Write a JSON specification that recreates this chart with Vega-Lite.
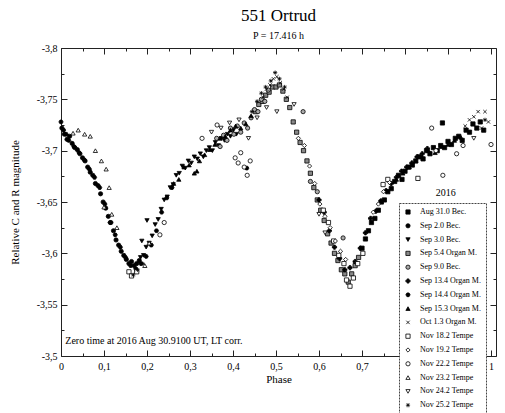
{
  "$schema": "https://vega.github.io/schema/vega-lite/v6.json",
  "autosize": {"type": "none"},
  "padding": {"left": 61, "top": 48, "right": 9, "bottom": 57},
  "width": 435,
  "height": 308,
  "background": "white",
  "title": {"text": "551 Ortrud", "subtitle": "P = 17.416 h", "font": "Liberation Serif", "fontSize": 17, "fontWeight": "normal", "subtitleFont": "Liberation Serif", "subtitleFontSize": 10, "subtitlePadding": 6, "offset": 1, "anchor": "middle", "color": "black", "subtitleColor": "black"},
  "config": {
    "view": {"stroke": "#222", "strokeWidth": 1},
    "axis": {"domain": false, "grid": false, "tickColor": "#222", "labelFont": "Liberation Serif", "labelFontSize": 10, "labelColor": "black", "titleFont": "Liberation Serif", "titleFontSize": 11, "titleFontWeight": "normal", "titleColor": "black"},
    "legend": {"orient": "none", "legendX": 338, "legendY": 155, "strokeColor": "#444", "strokeDash": [2, 1], "fillColor": "white", "padding": 5, "labelFont": "Liberation Serif", "labelFontSize": 8, "labelColor": "black", "symbolSize": 18, "rowPadding": 5.8, "labelOffset": 8, "symbolStrokeWidth": 0.8, "symbolStrokeColor": "black"}
  },
  "resolve": {"axis": {"x": "independent", "y": "independent"}},
  "layer": [
    {
      "data": {"values": [
        {"p":0.700,"m":-3.605,"s":"Aug 31.0 Bec."},{"p":0.708,"m":-3.614,"s":"Aug 31.0 Bec."},{"p":0.715,"m":-3.622,"s":"Aug 31.0 Bec."},{"p":0.722,"m":-3.630,"s":"Aug 31.0 Bec."},{"p":0.730,"m":-3.634,"s":"Aug 31.0 Bec."},{"p":0.738,"m":-3.642,"s":"Aug 31.0 Bec."},{"p":0.745,"m":-3.650,"s":"Aug 31.0 Bec."},{"p":0.752,"m":-3.652,"s":"Aug 31.0 Bec."},{"p":0.760,"m":-3.660,"s":"Aug 31.0 Bec."},{"p":0.768,"m":-3.663,"s":"Aug 31.0 Bec."},{"p":0.776,"m":-3.670,"s":"Aug 31.0 Bec."},{"p":0.785,"m":-3.676,"s":"Aug 31.0 Bec."},{"p":0.793,"m":-3.672,"s":"Aug 31.0 Bec."},{"p":0.800,"m":-3.680,"s":"Aug 31.0 Bec."},{"p":0.808,"m":-3.684,"s":"Aug 31.0 Bec."},{"p":0.817,"m":-3.686,"s":"Aug 31.0 Bec."},{"p":0.825,"m":-3.690,"s":"Aug 31.0 Bec."},{"p":0.833,"m":-3.694,"s":"Aug 31.0 Bec."},{"p":0.842,"m":-3.692,"s":"Aug 31.0 Bec."},{"p":0.850,"m":-3.700,"s":"Aug 31.0 Bec."},{"p":0.858,"m":-3.697,"s":"Aug 31.0 Bec."},{"p":0.866,"m":-3.703,"s":"Aug 31.0 Bec."},{"p":0.875,"m":-3.700,"s":"Aug 31.0 Bec."},{"p":0.883,"m":-3.705,"s":"Aug 31.0 Bec."},{"p":0.892,"m":-3.703,"s":"Aug 31.0 Bec."},{"p":0.900,"m":-3.709,"s":"Aug 31.0 Bec."},{"p":0.908,"m":-3.706,"s":"Aug 31.0 Bec."},{"p":0.917,"m":-3.712,"s":"Aug 31.0 Bec."},{"p":0.925,"m":-3.714,"s":"Aug 31.0 Bec."},{"p":0.933,"m":-3.710,"s":"Aug 31.0 Bec."},{"p":0.942,"m":-3.720,"s":"Aug 31.0 Bec."},{"p":0.950,"m":-3.718,"s":"Aug 31.0 Bec."},{"p":0.958,"m":-3.726,"s":"Aug 31.0 Bec."},{"p":0.967,"m":-3.722,"s":"Aug 31.0 Bec."},{"p":0.975,"m":-3.728,"s":"Aug 31.0 Bec."},{"p":0.983,"m":-3.720,"s":"Aug 31.0 Bec."},{"p":0.887,"m":-3.727,"s":"Aug 31.0 Bec."},
        {"p":0.002,"m":-3.722,"s":"Sep 2.0 Bec."},{"p":0.008,"m":-3.716,"s":"Sep 2.0 Bec."},{"p":0.014,"m":-3.711,"s":"Sep 2.0 Bec."},{"p":0.020,"m":-3.714,"s":"Sep 2.0 Bec."},{"p":0.026,"m":-3.707,"s":"Sep 2.0 Bec."},{"p":0.032,"m":-3.703,"s":"Sep 2.0 Bec."},{"p":0.038,"m":-3.701,"s":"Sep 2.0 Bec."},{"p":0.044,"m":-3.697,"s":"Sep 2.0 Bec."},{"p":0.050,"m":-3.693,"s":"Sep 2.0 Bec."},{"p":0.056,"m":-3.690,"s":"Sep 2.0 Bec."},{"p":0.062,"m":-3.684,"s":"Sep 2.0 Bec."},{"p":0.068,"m":-3.679,"s":"Sep 2.0 Bec."},{"p":0.074,"m":-3.676,"s":"Sep 2.0 Bec."},{"p":0.080,"m":-3.668,"s":"Sep 2.0 Bec."},{"p":0.086,"m":-3.666,"s":"Sep 2.0 Bec."},{"p":0.092,"m":-3.658,"s":"Sep 2.0 Bec."},{"p":0.098,"m":-3.650,"s":"Sep 2.0 Bec."},{"p":0.104,"m":-3.644,"s":"Sep 2.0 Bec."},{"p":0.110,"m":-3.636,"s":"Sep 2.0 Bec."},{"p":0.116,"m":-3.630,"s":"Sep 2.0 Bec."},{"p":0.122,"m":-3.622,"s":"Sep 2.0 Bec."},{"p":0.128,"m":-3.613,"s":"Sep 2.0 Bec."},{"p":0.134,"m":-3.608,"s":"Sep 2.0 Bec."},{"p":0.140,"m":-3.602,"s":"Sep 2.0 Bec."},{"p":0.146,"m":-3.598,"s":"Sep 2.0 Bec."},{"p":0.152,"m":-3.594,"s":"Sep 2.0 Bec."},{"p":0.158,"m":-3.590,"s":"Sep 2.0 Bec."},{"p":0.164,"m":-3.592,"s":"Sep 2.0 Bec."},{"p":0.170,"m":-3.588,"s":"Sep 2.0 Bec."},{"p":0.176,"m":-3.590,"s":"Sep 2.0 Bec."},{"p":0.182,"m":-3.593,"s":"Sep 2.0 Bec."},
        {"p":0.185,"m":-3.596,"s":"Sep 3.0 Bec."},{"p":0.192,"m":-3.598,"s":"Sep 3.0 Bec."},{"p":0.198,"m":-3.606,"s":"Sep 3.0 Bec."},{"p":0.205,"m":-3.610,"s":"Sep 3.0 Bec."},{"p":0.212,"m":-3.617,"s":"Sep 3.0 Bec."},{"p":0.219,"m":-3.628,"s":"Sep 3.0 Bec."},{"p":0.226,"m":-3.633,"s":"Sep 3.0 Bec."},{"p":0.233,"m":-3.643,"s":"Sep 3.0 Bec."},{"p":0.240,"m":-3.652,"s":"Sep 3.0 Bec."},{"p":0.247,"m":-3.655,"s":"Sep 3.0 Bec."},{"p":0.254,"m":-3.664,"s":"Sep 3.0 Bec."},{"p":0.261,"m":-3.667,"s":"Sep 3.0 Bec."},{"p":0.268,"m":-3.676,"s":"Sep 3.0 Bec."},{"p":0.275,"m":-3.678,"s":"Sep 3.0 Bec."},{"p":0.282,"m":-3.685,"s":"Sep 3.0 Bec."},{"p":0.289,"m":-3.683,"s":"Sep 3.0 Bec."},{"p":0.296,"m":-3.690,"s":"Sep 3.0 Bec."},{"p":0.303,"m":-3.688,"s":"Sep 3.0 Bec."},{"p":0.310,"m":-3.694,"s":"Sep 3.0 Bec."},{"p":0.317,"m":-3.692,"s":"Sep 3.0 Bec."},{"p":0.324,"m":-3.697,"s":"Sep 3.0 Bec."},{"p":0.331,"m":-3.694,"s":"Sep 3.0 Bec."},{"p":0.338,"m":-3.700,"s":"Sep 3.0 Bec."},{"p":0.345,"m":-3.703,"s":"Sep 3.0 Bec."},{"p":0.352,"m":-3.700,"s":"Sep 3.0 Bec."},{"p":0.359,"m":-3.708,"s":"Sep 3.0 Bec."},{"p":0.366,"m":-3.705,"s":"Sep 3.0 Bec."},{"p":0.373,"m":-3.712,"s":"Sep 3.0 Bec."},{"p":0.380,"m":-3.710,"s":"Sep 3.0 Bec."},{"p":0.387,"m":-3.716,"s":"Sep 3.0 Bec."},{"p":0.394,"m":-3.714,"s":"Sep 3.0 Bec."},{"p":0.401,"m":-3.720,"s":"Sep 3.0 Bec."},{"p":0.408,"m":-3.716,"s":"Sep 3.0 Bec."},{"p":0.200,"m":-3.632,"s":"Sep 3.0 Bec."},{"p":0.188,"m":-3.612,"s":"Sep 3.0 Bec."},
        {"p":0.452,"m":-3.738,"s":"Sep 5.4 Organ M."},{"p":0.460,"m":-3.745,"s":"Sep 5.4 Organ M."},{"p":0.468,"m":-3.748,"s":"Sep 5.4 Organ M."},{"p":0.476,"m":-3.754,"s":"Sep 5.4 Organ M."},{"p":0.484,"m":-3.757,"s":"Sep 5.4 Organ M."},{"p":0.492,"m":-3.762,"s":"Sep 5.4 Organ M."},{"p":0.500,"m":-3.762,"s":"Sep 5.4 Organ M."},{"p":0.508,"m":-3.764,"s":"Sep 5.4 Organ M."},{"p":0.516,"m":-3.758,"s":"Sep 5.4 Organ M."},{"p":0.524,"m":-3.750,"s":"Sep 5.4 Organ M."},{"p":0.532,"m":-3.742,"s":"Sep 5.4 Organ M."},{"p":0.540,"m":-3.728,"s":"Sep 5.4 Organ M."},{"p":0.548,"m":-3.718,"s":"Sep 5.4 Organ M."},{"p":0.556,"m":-3.708,"s":"Sep 5.4 Organ M."},{"p":0.564,"m":-3.700,"s":"Sep 5.4 Organ M."},{"p":0.572,"m":-3.690,"s":"Sep 5.4 Organ M."},{"p":0.580,"m":-3.678,"s":"Sep 5.4 Organ M."},{"p":0.588,"m":-3.664,"s":"Sep 5.4 Organ M."},{"p":0.596,"m":-3.652,"s":"Sep 5.4 Organ M."},{"p":0.604,"m":-3.642,"s":"Sep 5.4 Organ M."},{"p":0.612,"m":-3.632,"s":"Sep 5.4 Organ M."},{"p":0.620,"m":-3.619,"s":"Sep 5.4 Organ M."},{"p":0.628,"m":-3.610,"s":"Sep 5.4 Organ M."},{"p":0.636,"m":-3.600,"s":"Sep 5.4 Organ M."},{"p":0.644,"m":-3.593,"s":"Sep 5.4 Organ M."},{"p":0.652,"m":-3.584,"s":"Sep 5.4 Organ M."},{"p":0.660,"m":-3.580,"s":"Sep 5.4 Organ M."},{"p":0.668,"m":-3.572,"s":"Sep 5.4 Organ M."},{"p":0.676,"m":-3.580,"s":"Sep 5.4 Organ M."},{"p":0.684,"m":-3.588,"s":"Sep 5.4 Organ M."},{"p":0.692,"m":-3.596,"s":"Sep 5.4 Organ M."},
        {"p":0.362,"m":-3.712,"s":"Sep 9.0 Bec."},{"p":0.370,"m":-3.704,"s":"Sep 9.0 Bec."},{"p":0.378,"m":-3.715,"s":"Sep 9.0 Bec."},{"p":0.386,"m":-3.710,"s":"Sep 9.0 Bec."},{"p":0.394,"m":-3.722,"s":"Sep 9.0 Bec."},{"p":0.402,"m":-3.716,"s":"Sep 9.0 Bec."},{"p":0.410,"m":-3.724,"s":"Sep 9.0 Bec."},{"p":0.418,"m":-3.718,"s":"Sep 9.0 Bec."},{"p":0.426,"m":-3.727,"s":"Sep 9.0 Bec."},{"p":0.434,"m":-3.722,"s":"Sep 9.0 Bec."},{"p":0.442,"m":-3.732,"s":"Sep 9.0 Bec."},{"p":0.450,"m":-3.740,"s":"Sep 9.0 Bec."},{"p":0.458,"m":-3.738,"s":"Sep 9.0 Bec."},{"p":0.466,"m":-3.750,"s":"Sep 9.0 Bec."},{"p":0.474,"m":-3.748,"s":"Sep 9.0 Bec."},{"p":0.482,"m":-3.759,"s":"Sep 9.0 Bec."},{"p":0.563,"m":-3.738,"s":"Sep 9.0 Bec."},{"p":0.656,"m":-3.615,"s":"Sep 9.0 Bec."},{"p":0.580,"m":-3.670,"s":"Sep 9.0 Bec."},{"p":0.596,"m":-3.660,"s":"Sep 9.0 Bec."},
        {"p":0.600,"m":-3.652,"s":"Sep 13.4 Organ M."},{"p":0.612,"m":-3.640,"s":"Sep 13.4 Organ M."},{"p":0.624,"m":-3.622,"s":"Sep 13.4 Organ M."},{"p":0.636,"m":-3.606,"s":"Sep 13.4 Organ M."},{"p":0.648,"m":-3.595,"s":"Sep 13.4 Organ M."},{"p":0.660,"m":-3.584,"s":"Sep 13.4 Organ M."},{"p":0.672,"m":-3.586,"s":"Sep 13.4 Organ M."},{"p":0.684,"m":-3.592,"s":"Sep 13.4 Organ M."},{"p":0.696,"m":-3.605,"s":"Sep 13.4 Organ M."},{"p":0.708,"m":-3.620,"s":"Sep 13.4 Organ M."},{"p":0.720,"m":-3.634,"s":"Sep 13.4 Organ M."},{"p":0.732,"m":-3.641,"s":"Sep 13.4 Organ M."},{"p":0.744,"m":-3.651,"s":"Sep 13.4 Organ M."},{"p":0.756,"m":-3.661,"s":"Sep 13.4 Organ M."},{"p":0.768,"m":-3.668,"s":"Sep 13.4 Organ M."},{"p":0.780,"m":-3.674,"s":"Sep 13.4 Organ M."},{"p":0.792,"m":-3.680,"s":"Sep 13.4 Organ M."},{"p":0.804,"m":-3.684,"s":"Sep 13.4 Organ M."},{"p":0.816,"m":-3.688,"s":"Sep 13.4 Organ M."},{"p":0.828,"m":-3.694,"s":"Sep 13.4 Organ M."},{"p":0.840,"m":-3.697,"s":"Sep 13.4 Organ M."},{"p":0.852,"m":-3.702,"s":"Sep 13.4 Organ M."},
        {"p":0.000,"m":-3.728,"s":"Sep 14.4 Organ M."},{"p":0.006,"m":-3.720,"s":"Sep 14.4 Organ M."},{"p":0.012,"m":-3.716,"s":"Sep 14.4 Organ M."},{"p":0.018,"m":-3.710,"s":"Sep 14.4 Organ M."},{"p":0.030,"m":-3.704,"s":"Sep 14.4 Organ M."},{"p":0.042,"m":-3.698,"s":"Sep 14.4 Organ M."},{"p":0.054,"m":-3.691,"s":"Sep 14.4 Organ M."},{"p":0.066,"m":-3.682,"s":"Sep 14.4 Organ M."},{"p":0.078,"m":-3.674,"s":"Sep 14.4 Organ M."},{"p":0.090,"m":-3.664,"s":"Sep 14.4 Organ M."},{"p":0.102,"m":-3.648,"s":"Sep 14.4 Organ M."},{"p":0.114,"m":-3.630,"s":"Sep 14.4 Organ M."},{"p":0.126,"m":-3.618,"s":"Sep 14.4 Organ M."},{"p":0.138,"m":-3.606,"s":"Sep 14.4 Organ M."},{"p":0.150,"m":-3.596,"s":"Sep 14.4 Organ M."},{"p":0.162,"m":-3.588,"s":"Sep 14.4 Organ M."},{"p":0.174,"m":-3.585,"s":"Sep 14.4 Organ M."},{"p":0.186,"m":-3.590,"s":"Sep 14.4 Organ M."},{"p":0.198,"m":-3.597,"s":"Sep 14.4 Organ M."},{"p":0.210,"m":-3.608,"s":"Sep 14.4 Organ M."},{"p":0.222,"m":-3.622,"s":"Sep 14.4 Organ M."},{"p":0.234,"m":-3.640,"s":"Sep 14.4 Organ M."},{"p":0.246,"m":-3.654,"s":"Sep 14.4 Organ M."},{"p":0.258,"m":-3.664,"s":"Sep 14.4 Organ M."},{"p":0.432,"m":-3.683,"s":"Sep 14.4 Organ M."},
        {"p":0.262,"m":-3.668,"s":"Sep 15.3 Organ M."},{"p":0.274,"m":-3.672,"s":"Sep 15.3 Organ M."},{"p":0.286,"m":-3.684,"s":"Sep 15.3 Organ M."},{"p":0.298,"m":-3.686,"s":"Sep 15.3 Organ M."},{"p":0.310,"m":-3.678,"s":"Sep 15.3 Organ M."},{"p":0.316,"m":-3.680,"s":"Sep 15.3 Organ M."},{"p":0.322,"m":-3.690,"s":"Sep 15.3 Organ M."},{"p":0.334,"m":-3.696,"s":"Sep 15.3 Organ M."},{"p":0.346,"m":-3.701,"s":"Sep 15.3 Organ M."},{"p":0.358,"m":-3.706,"s":"Sep 15.3 Organ M."},{"p":0.370,"m":-3.712,"s":"Sep 15.3 Organ M."},{"p":0.382,"m":-3.714,"s":"Sep 15.3 Organ M."},{"p":0.394,"m":-3.720,"s":"Sep 15.3 Organ M."},{"p":0.406,"m":-3.724,"s":"Sep 15.3 Organ M."},{"p":0.418,"m":-3.722,"s":"Sep 15.3 Organ M."},{"p":0.430,"m":-3.726,"s":"Sep 15.3 Organ M."},{"p":0.442,"m":-3.734,"s":"Sep 15.3 Organ M."},{"p":0.780,"m":-3.672,"s":"Sep 15.3 Organ M."},{"p":0.795,"m":-3.678,"s":"Sep 15.3 Organ M."},{"p":0.810,"m":-3.684,"s":"Sep 15.3 Organ M."},{"p":0.825,"m":-3.690,"s":"Sep 15.3 Organ M."},{"p":0.840,"m":-3.694,"s":"Sep 15.3 Organ M."},{"p":0.855,"m":-3.700,"s":"Sep 15.3 Organ M."},{"p":0.870,"m":-3.698,"s":"Sep 15.3 Organ M."},{"p":0.885,"m":-3.704,"s":"Sep 15.3 Organ M."},{"p":0.900,"m":-3.706,"s":"Sep 15.3 Organ M."},{"p":0.915,"m":-3.710,"s":"Sep 15.3 Organ M."},{"p":0.930,"m":-3.713,"s":"Sep 15.3 Organ M."},
        {"p":0.470,"m":-3.752,"s":"Oct 1.3 Organ M."},{"p":0.478,"m":-3.760,"s":"Oct 1.3 Organ M."},{"p":0.486,"m":-3.764,"s":"Oct 1.3 Organ M."},{"p":0.494,"m":-3.770,"s":"Oct 1.3 Organ M."},{"p":0.502,"m":-3.772,"s":"Oct 1.3 Organ M."},{"p":0.510,"m":-3.766,"s":"Oct 1.3 Organ M."},{"p":0.518,"m":-3.760,"s":"Oct 1.3 Organ M."},{"p":0.526,"m":-3.752,"s":"Oct 1.3 Organ M."},{"p":0.940,"m":-3.724,"s":"Oct 1.3 Organ M."},{"p":0.950,"m":-3.730,"s":"Oct 1.3 Organ M."},{"p":0.960,"m":-3.733,"s":"Oct 1.3 Organ M."},{"p":0.970,"m":-3.738,"s":"Oct 1.3 Organ M."},{"p":0.986,"m":-3.738,"s":"Oct 1.3 Organ M."},{"p":0.994,"m":-3.728,"s":"Oct 1.3 Organ M."},{"p":0.978,"m":-3.722,"s":"Oct 1.3 Organ M."},
        {"p":0.610,"m":-3.642,"s":"Nov 18.2 Tempe"},{"p":0.622,"m":-3.630,"s":"Nov 18.2 Tempe"},{"p":0.634,"m":-3.612,"s":"Nov 18.2 Tempe"},{"p":0.646,"m":-3.598,"s":"Nov 18.2 Tempe"},{"p":0.658,"m":-3.590,"s":"Nov 18.2 Tempe"},{"p":0.664,"m":-3.574,"s":"Nov 18.2 Tempe"},{"p":0.672,"m":-3.568,"s":"Nov 18.2 Tempe"},{"p":0.680,"m":-3.576,"s":"Nov 18.2 Tempe"},{"p":0.690,"m":-3.590,"s":"Nov 18.2 Tempe"},{"p":0.702,"m":-3.600,"s":"Nov 18.2 Tempe"},{"p":0.749,"m":-3.667,"s":"Nov 18.2 Tempe"},{"p":0.760,"m":-3.672,"s":"Nov 18.2 Tempe"},{"p":0.830,"m":-3.673,"s":"Nov 18.2 Tempe"},{"p":0.158,"m":-3.582,"s":"Nov 18.2 Tempe"},{"p":0.164,"m":-3.578,"s":"Nov 18.2 Tempe"},{"p":0.176,"m":-3.582,"s":"Nov 18.2 Tempe"},
        {"p":0.552,"m":-3.712,"s":"Nov 19.2 Tempe"},{"p":0.566,"m":-3.705,"s":"Nov 19.2 Tempe"},{"p":0.578,"m":-3.685,"s":"Nov 19.2 Tempe"},{"p":0.590,"m":-3.668,"s":"Nov 19.2 Tempe"},{"p":0.602,"m":-3.648,"s":"Nov 19.2 Tempe"},{"p":0.614,"m":-3.636,"s":"Nov 19.2 Tempe"},{"p":0.626,"m":-3.625,"s":"Nov 19.2 Tempe"},{"p":0.638,"m":-3.612,"s":"Nov 19.2 Tempe"},{"p":0.650,"m":-3.602,"s":"Nov 19.2 Tempe"},{"p":0.662,"m":-3.594,"s":"Nov 19.2 Tempe"},{"p":0.726,"m":-3.640,"s":"Nov 19.2 Tempe"},{"p":0.738,"m":-3.648,"s":"Nov 19.2 Tempe"},{"p":0.750,"m":-3.660,"s":"Nov 19.2 Tempe"},{"p":0.764,"m":-3.669,"s":"Nov 19.2 Tempe"},
        {"p":0.405,"m":-3.693,"s":"Nov 22.2 Tempe"},{"p":0.412,"m":-3.688,"s":"Nov 22.2 Tempe"},{"p":0.418,"m":-3.698,"s":"Nov 22.2 Tempe"},{"p":0.426,"m":-3.684,"s":"Nov 22.2 Tempe"},{"p":0.433,"m":-3.676,"s":"Nov 22.2 Tempe"},{"p":0.440,"m":-3.690,"s":"Nov 22.2 Tempe"},{"p":0.328,"m":-3.712,"s":"Nov 22.2 Tempe"},{"p":0.363,"m":-3.725,"s":"Nov 22.2 Tempe"},{"p":0.240,"m":-3.630,"s":"Nov 22.2 Tempe"},{"p":0.230,"m":-3.618,"s":"Nov 22.2 Tempe"},{"p":0.862,"m":-3.722,"s":"Nov 22.2 Tempe"},{"p":0.872,"m":-3.700,"s":"Nov 22.2 Tempe"},{"p":0.888,"m":-3.676,"s":"Nov 22.2 Tempe"},{"p":0.920,"m":-3.697,"s":"Nov 22.2 Tempe"},{"p":0.935,"m":-3.705,"s":"Nov 22.2 Tempe"},{"p":1.000,"m":-3.706,"s":"Nov 22.2 Tempe"},
        {"p":0.028,"m":-3.717,"s":"Nov 23.2 Tempe"},{"p":0.040,"m":-3.720,"s":"Nov 23.2 Tempe"},{"p":0.055,"m":-3.716,"s":"Nov 23.2 Tempe"},{"p":0.068,"m":-3.714,"s":"Nov 23.2 Tempe"},{"p":0.080,"m":-3.700,"s":"Nov 23.2 Tempe"},{"p":0.094,"m":-3.690,"s":"Nov 23.2 Tempe"},{"p":0.105,"m":-3.682,"s":"Nov 23.2 Tempe"},{"p":0.112,"m":-3.664,"s":"Nov 23.2 Tempe"},{"p":0.100,"m":-3.645,"s":"Nov 23.2 Tempe"},{"p":0.205,"m":-3.610,"s":"Nov 23.2 Tempe"},{"p":0.195,"m":-3.588,"s":"Nov 23.2 Tempe"},{"p":0.118,"m":-3.638,"s":"Nov 23.2 Tempe"},{"p":0.130,"m":-3.625,"s":"Nov 23.2 Tempe"},
        {"p":0.350,"m":-3.718,"s":"Nov 24.2 Tempe"},{"p":0.372,"m":-3.722,"s":"Nov 24.2 Tempe"},{"p":0.392,"m":-3.727,"s":"Nov 24.2 Tempe"},{"p":0.414,"m":-3.730,"s":"Nov 24.2 Tempe"},{"p":0.436,"m":-3.712,"s":"Nov 24.2 Tempe"},{"p":0.456,"m":-3.732,"s":"Nov 24.2 Tempe"},{"p":0.478,"m":-3.742,"s":"Nov 24.2 Tempe"},{"p":0.502,"m":-3.738,"s":"Nov 24.2 Tempe"},{"p":0.542,"m":-3.745,"s":"Nov 24.2 Tempe"},{"p":0.600,"m":-3.638,"s":"Nov 24.2 Tempe"},{"p":0.614,"m":-3.620,"s":"Nov 24.2 Tempe"},{"p":0.960,"m":-3.712,"s":"Nov 24.2 Tempe"},
        {"p":0.444,"m":-3.738,"s":"Nov 25.2 Tempe"},{"p":0.456,"m":-3.748,"s":"Nov 25.2 Tempe"},{"p":0.466,"m":-3.756,"s":"Nov 25.2 Tempe"},{"p":0.476,"m":-3.762,"s":"Nov 25.2 Tempe"},{"p":0.488,"m":-3.768,"s":"Nov 25.2 Tempe"},{"p":0.498,"m":-3.776,"s":"Nov 25.2 Tempe"},{"p":0.508,"m":-3.770,"s":"Nov 25.2 Tempe"},{"p":0.520,"m":-3.762,"s":"Nov 25.2 Tempe"},{"p":0.168,"m":-3.579,"s":"Nov 25.2 Tempe"},{"p":0.178,"m":-3.584,"s":"Nov 25.2 Tempe"},{"p":0.190,"m":-3.590,"s":"Nov 25.2 Tempe"},{"p":0.986,"m":-3.730,"s":"Nov 25.2 Tempe"}
      ]},
      "mark": {"type": "point", "filled": true, "strokeWidth": 0.8, "size": 18, "opacity": 1},
      "encoding": {
        "x": {"field": "p", "type": "quantitative", "scale": {"domain": [0, 1.0116], "nice": false, "zero": false},
          "axis": {"orient": "bottom", "title": "Phase", "values": [0,0.05,0.1,0.15,0.2,0.25,0.3,0.35,0.4,0.45,0.5,0.55,0.6,0.65,0.7,0.75,0.8,0.85,0.9,0.95,1],
            "labelExpr": "abs(datum.value*10 - round(datum.value*10)) < 0.001 ? replace(toString(datum.value), '.', ',') : ''",
            "tickSize": {"condition": {"test": "abs(datum.value*10 - round(datum.value*10)) < 0.001", "value": -6}, "value": -3},
            "labelPadding": 11, "titlePadding": 2, "labelFlush": false}},
        "y": {"field": "m", "type": "quantitative", "scale": {"domain": [-3.8, -3.5], "reverse": true, "nice": false, "zero": false},
          "axis": {"orient": "left", "title": "Relative C and R magnitude", "values": [-3.8,-3.775,-3.75,-3.725,-3.7,-3.675,-3.65,-3.625,-3.6,-3.575,-3.55,-3.525,-3.5],
            "labelExpr": "abs(datum.value*20 - round(datum.value*20)) < 0.001 ? replace(toString(datum.value), '.', ',') : ''",
            "tickSize": {"condition": {"test": "abs(datum.value*20 - round(datum.value*20)) < 0.001", "value": -6}, "value": -3},
            "labelPadding": 10, "titlePadding": 16, "labelFlush": false}},
        "shape": {"field": "s", "type": "nominal",
          "legend": {"title": null},
          "scale": {"domain": ["Aug 31.0 Bec.","Sep 2.0 Bec.","Sep 3.0 Bec.","Sep 5.4 Organ M.","Sep 9.0 Bec.","Sep 13.4 Organ M.","Sep 14.4 Organ M.","Sep 15.3 Organ M.","Oct 1.3 Organ M.","Nov 18.2 Tempe","Nov 19.2 Tempe","Nov 22.2 Tempe","Nov 23.2 Tempe","Nov 24.2 Tempe","Nov 25.2 Tempe"],
            "range": ["square","circle","triangle-down","square","circle","cross","M-1,0L-0.5,-0.87L0.5,-0.87L1,0L0.5,0.87L-0.5,0.87Z","triangle-up","M-0.8,-0.8L0.8,0.8M-0.8,0.8L0.8,-0.8","square","diamond","circle","triangle-up","triangle-down","M-1,0L1,0M0,-1L0,1M-0.7,-0.7L0.7,0.7M-0.7,0.7L0.7,-0.7"]}},
        "fill": {"field": "s", "type": "nominal",
          "legend": {"title": null},
          "scale": {"domain": ["Aug 31.0 Bec.","Sep 2.0 Bec.","Sep 3.0 Bec.","Sep 5.4 Organ M.","Sep 9.0 Bec.","Sep 13.4 Organ M.","Sep 14.4 Organ M.","Sep 15.3 Organ M.","Oct 1.3 Organ M.","Nov 18.2 Tempe","Nov 19.2 Tempe","Nov 22.2 Tempe","Nov 23.2 Tempe","Nov 24.2 Tempe","Nov 25.2 Tempe"],
            "range": ["black","black","black","#888888","#aaaaaa","black","black","black","black","white","white","white","white","white","black"]}},
        "stroke": {"field": "s", "type": "nominal",
          "legend": {"title": null},
          "scale": {"domain": ["Aug 31.0 Bec.","Sep 2.0 Bec.","Sep 3.0 Bec.","Sep 5.4 Organ M.","Sep 9.0 Bec.","Sep 13.4 Organ M.","Sep 14.4 Organ M.","Sep 15.3 Organ M.","Oct 1.3 Organ M.","Nov 18.2 Tempe","Nov 19.2 Tempe","Nov 22.2 Tempe","Nov 23.2 Tempe","Nov 24.2 Tempe","Nov 25.2 Tempe"],
            "range": ["black","black","black","black","black","black","black","black","black","black","black","black","black","black","black"]}}
      }
    },
    {
      "data": {"values": [{"p": 0.01, "m": -3.5146, "label": "Zero time at 2016 Aug 30.9100 UT,  LT corr."}]},
      "mark": {"type": "text", "align": "left", "baseline": "middle", "font": "Liberation Serif", "fontSize": 10, "color": "black"},
      "encoding": {
        "x": {"field": "p", "type": "quantitative", "scale": {"domain": [0, 1.0116], "nice": false, "zero": false},
          "axis": {"orient": "top", "title": null, "labels": false, "values": [0,0.05,0.1,0.15,0.2,0.25,0.3,0.35,0.4,0.45,0.5,0.55,0.6,0.65,0.7,0.75,0.8,0.85,0.9,0.95,1],
            "tickSize": {"condition": {"test": "abs(datum.value*10 - round(datum.value*10)) < 0.001", "value": -6}, "value": -3}}},
        "y": {"field": "m", "type": "quantitative", "scale": {"domain": [-3.8, -3.5], "reverse": true, "nice": false, "zero": false},
          "axis": {"orient": "right", "title": null, "labels": false, "values": [-3.8,-3.775,-3.75,-3.725,-3.7,-3.675,-3.65,-3.625,-3.6,-3.575,-3.55,-3.525,-3.5],
            "tickSize": {"condition": {"test": "abs(datum.value*20 - round(datum.value*20)) < 0.001", "value": -6}, "value": -3}}},
        "text": {"field": "label", "type": "nominal"}
      }
    },
    {
      "data": {"values": [{"p": 0.895, "m": -3.659, "label": "2016"}]},
      "mark": {"type": "text", "align": "center", "baseline": "middle", "font": "Liberation Serif", "fontSize": 10, "color": "black"},
      "encoding": {
        "x": {"field": "p", "type": "quantitative", "axis": null},
        "y": {"field": "m", "type": "quantitative", "axis": null},
        "text": {"field": "label", "type": "nominal"}
      }
    }
  ]
}
